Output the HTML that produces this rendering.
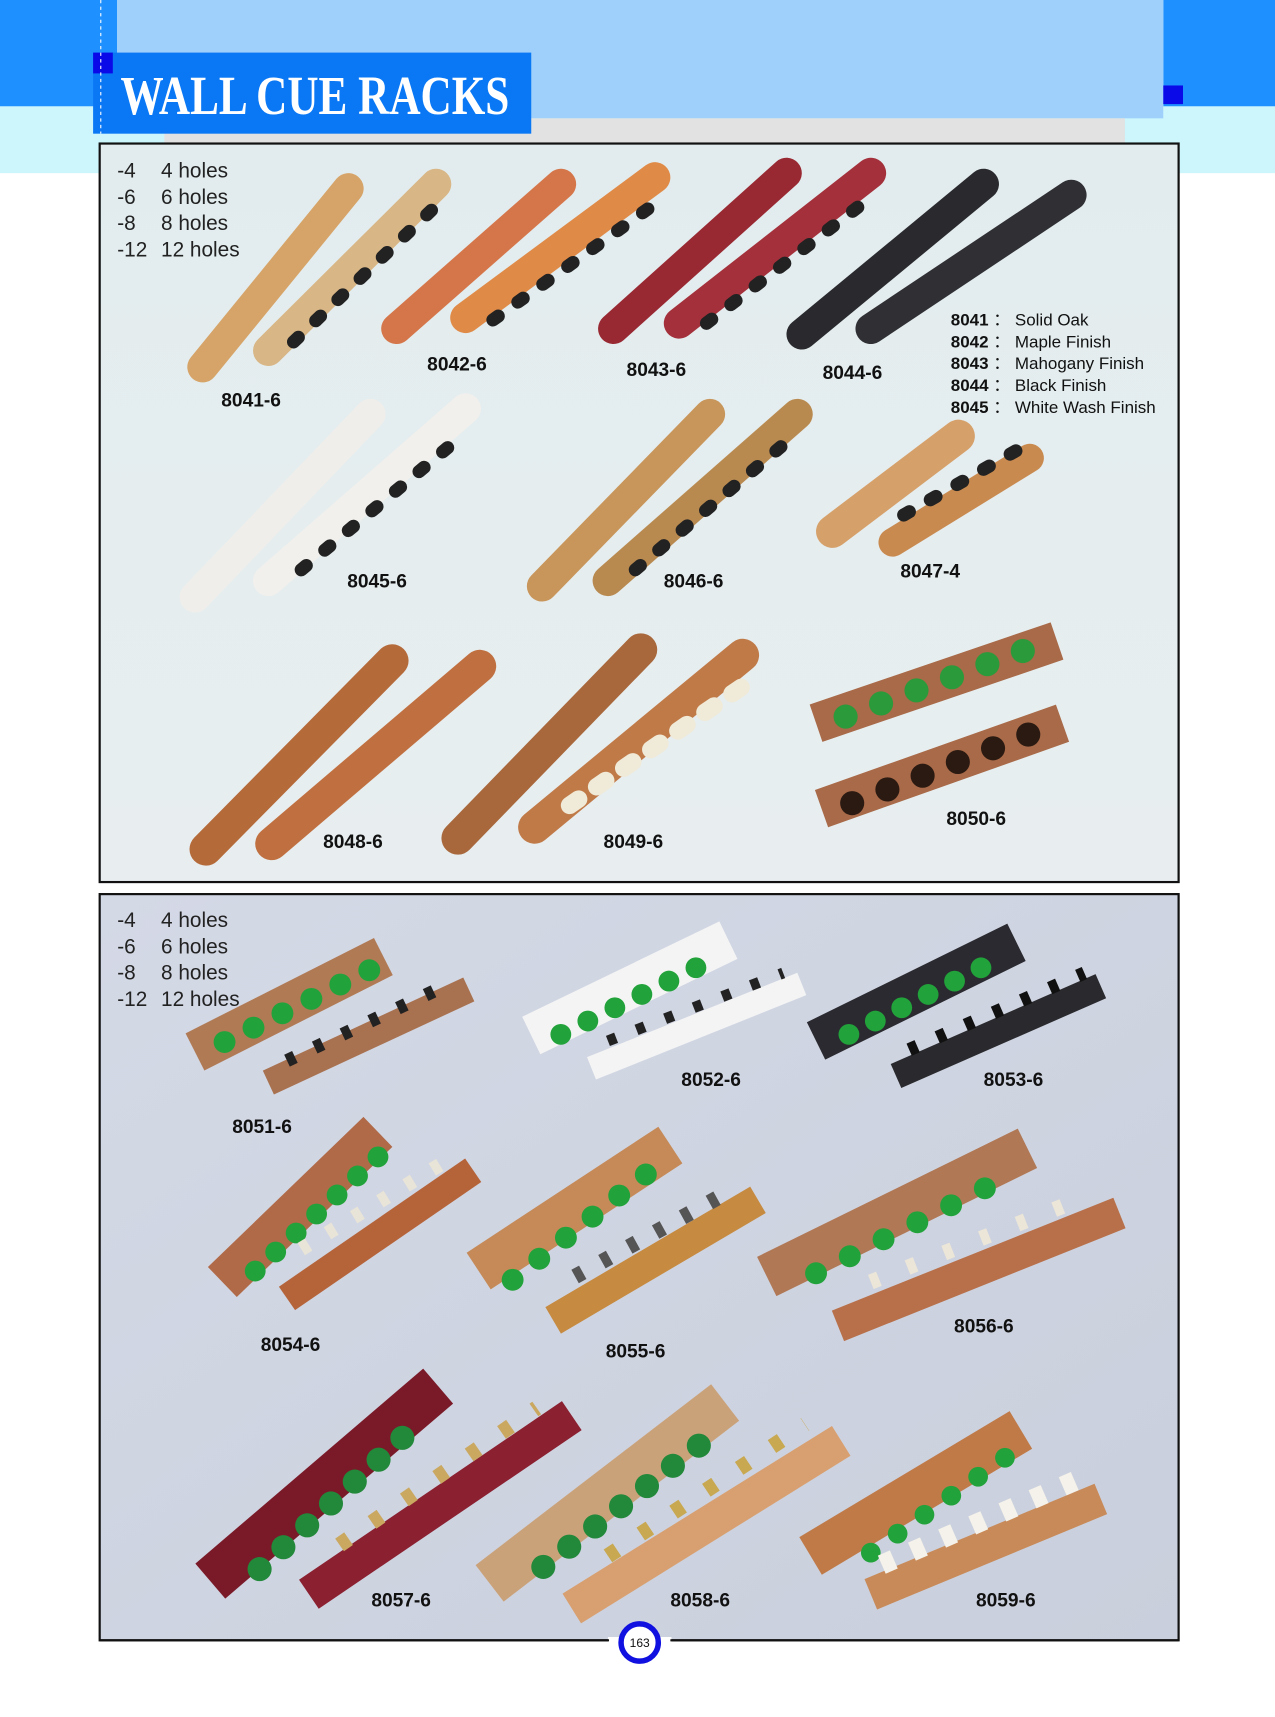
<!DOCTYPE html>
<html><head><meta charset="utf-8"><style>
html,body{margin:0;padding:0;background:#fff;}
svg{display:block;}
text{font-family:"Liberation Sans",sans-serif;}
.lb{font-weight:bold;font-size:17.5px;fill:#111;}
.lg{font-size:19px;fill:#222;}
.fn{font-size:15.5px;fill:#111;}
</style></head><body>
<svg width="1275" height="1717" viewBox="0 0 1164 1567" preserveAspectRatio="none" xmlns="http://www.w3.org/2000/svg">
<defs>
<linearGradient id="p1" x1="0" y1="0" x2="0" y2="1"><stop offset="0" stop-color="#e2ecee"/><stop offset="1" stop-color="#e8eef0"/></linearGradient>
<linearGradient id="p2" x1="0" y1="0" x2="1" y2="1"><stop offset="0" stop-color="#d4d9e6"/><stop offset="1" stop-color="#c9cfdc"/></linearGradient>
</defs>
<rect x="0" y="97" width="1164" height="61" fill="#ccf6fb"/>
<rect x="0" y="0" width="107" height="97" fill="#1e90ff"/>
<rect x="1062" y="0" width="102" height="97" fill="#1e90ff"/>
<rect x="107" y="0" width="955" height="108" fill="#9ed0fb"/>
<rect x="150" y="108" width="877" height="22" fill="#e2e2e2"/>
<rect x="85" y="48" width="400" height="74" fill="#0a78f5"/>
<rect x="85" y="48" width="18" height="19" fill="#0a0ae8"/>
<rect x="1062" y="78" width="18" height="17" fill="#0a0ae8"/>
<line x1="92" y1="0" x2="92" y2="122" stroke="#fff" stroke-width="1" stroke-dasharray="3 3"/>
<text x="110" y="104" style="font-family:'Liberation Serif',serif;font-size:50px;font-weight:bold;" fill="#fff" textLength="355" lengthAdjust="spacingAndGlyphs">WALL CUE RACKS</text>
<rect x="91" y="131" width="985" height="674" fill="url(#p1)" stroke="#111" stroke-width="2"/>
<rect x="91" y="816" width="985" height="681" fill="url(#p2)" stroke="#111" stroke-width="2"/>
<text x="107" y="162" class="lg">-4</text><text x="147" y="162" class="lg">4 holes</text>
<text x="107" y="186" class="lg">-6</text><text x="147" y="186" class="lg">6 holes</text>
<text x="107" y="210" class="lg">-8</text><text x="147" y="210" class="lg">8 holes</text>
<text x="107" y="234" class="lg">-12</text><text x="147" y="234" class="lg">12 holes</text>
<g stroke-linecap="round" fill="none">
<line x1="185" y1="335" x2="318" y2="172" stroke="#d6a468" stroke-width="28"/>
<line x1="245" y1="320" x2="398" y2="168" stroke="#d8b685" stroke-width="28"/>
<line x1="268" y1="312" x2="398" y2="188" stroke="#222" stroke-width="12" stroke-dasharray="6 22"/>
<line x1="362" y1="300" x2="512" y2="168" stroke="#d5764a" stroke-width="28"/>
<line x1="425" y1="290" x2="598" y2="162" stroke="#e08a48" stroke-width="28"/>
<line x1="450" y1="292" x2="598" y2="186" stroke="#222" stroke-width="12" stroke-dasharray="6 22"/>
<line x1="560" y1="300" x2="718" y2="158" stroke="#982832" stroke-width="28"/>
<line x1="620" y1="295" x2="795" y2="158" stroke="#a3303a" stroke-width="28"/>
<line x1="645" y1="295" x2="795" y2="180" stroke="#222" stroke-width="12" stroke-dasharray="6 22"/>
<line x1="732" y1="305" x2="898" y2="168" stroke="#2a2a2e" stroke-width="28"/>
<line x1="795" y1="300" x2="978" y2="178" stroke="#303034" stroke-width="28"/>
<line x1="178" y1="545" x2="338" y2="378" stroke="#f0eeea" stroke-width="28"/>
<line x1="245" y1="530" x2="425" y2="373" stroke="#f2f0ec" stroke-width="28"/>
<line x1="275" y1="520" x2="425" y2="395" stroke="#222" stroke-width="12" stroke-dasharray="6 22"/>
<line x1="495" y1="535" x2="648" y2="378" stroke="#c8955a" stroke-width="28"/>
<line x1="555" y1="530" x2="728" y2="378" stroke="#b98a50" stroke-width="28"/>
<line x1="580" y1="520" x2="728" y2="395" stroke="#222" stroke-width="12" stroke-dasharray="6 22"/>
<line x1="760" y1="485" x2="875" y2="398" stroke="#d6a06a" stroke-width="30"/>
<line x1="815" y1="495" x2="940" y2="418" stroke="#c98a50" stroke-width="26"/>
<line x1="825" y1="470" x2="930" y2="410" stroke="#222" stroke-width="12" stroke-dasharray="6 22"/>
<line x1="188" y1="775" x2="358" y2="603" stroke="#b56a3a" stroke-width="30"/>
<line x1="248" y1="770" x2="438" y2="608" stroke="#c07040" stroke-width="30"/>
<line x1="418" y1="765" x2="585" y2="593" stroke="#a8683c" stroke-width="30"/>
<line x1="488" y1="755" x2="678" y2="598" stroke="#c07a48" stroke-width="30"/>
<line x1="520" y1="735" x2="680" y2="625" stroke="#f0ead8" stroke-width="16" stroke-dasharray="10 20"/>
<line x1="745" y1="660" x2="965" y2="585" stroke="#a86a48" stroke-width="36" stroke-linecap="butt"/>
<line x1="772" y1="654" x2="945" y2="590" stroke="#2a9a3a" stroke-width="22" stroke-dasharray="0 34.5"/>
<line x1="750" y1="738" x2="970" y2="660" stroke="#a86a48" stroke-width="36" stroke-linecap="butt"/>
<line x1="778" y1="733" x2="950" y2="666" stroke="#2a1a12" stroke-width="22" stroke-dasharray="0 34.5"/>
</g>
<g class="lb">
<text x="202" y="371">8041-6</text><text x="390" y="338">8042-6</text>
<text x="572" y="343">8043-6</text><text x="751" y="346">8044-6</text>
<text x="317" y="536">8045-6</text><text x="606" y="536">8046-6</text>
<text x="822" y="527">8047-4</text><text x="295" y="774">8048-6</text>
<text x="551" y="774">8049-6</text><text x="864" y="753">8050-6</text>
</g>
<g class="fn">
<text x="868" y="297"><tspan font-weight="bold">8041</tspan> ： Solid Oak</text>
<text x="868" y="317"><tspan font-weight="bold">8042</tspan> ： Maple Finish</text>
<text x="868" y="337"><tspan font-weight="bold">8043</tspan> ： Mahogany Finish</text>
<text x="868" y="357"><tspan font-weight="bold">8044</tspan> ： Black Finish</text>
<text x="868" y="377"><tspan font-weight="bold">8045</tspan> ： White Wash Finish</text>
</g>
<text x="107" y="846" class="lg">-4</text><text x="147" y="846" class="lg">4 holes</text>
<text x="107" y="870" class="lg">-6</text><text x="147" y="870" class="lg">6 holes</text>
<text x="107" y="894" class="lg">-8</text><text x="147" y="894" class="lg">8 holes</text>
<text x="107" y="918" class="lg">-12</text><text x="147" y="918" class="lg">12 holes</text>
<g fill="none">
<line x1="178" y1="960" x2="350" y2="873" stroke="#b07a55" stroke-width="38"/>
<line x1="205" y1="951" x2="338" y2="885" stroke="#22a23a" stroke-width="20" stroke-linecap="round" stroke-dasharray="0 29.5"/>
<line x1="245" y1="988" x2="428" y2="903" stroke="#a87250" stroke-width="24"/>
<line x1="262" y1="968" x2="410" y2="898" stroke="#222" stroke-width="12" stroke-dasharray="8 20"/>
<line x1="485" y1="945" x2="665" y2="858" stroke="#f4f4f4" stroke-width="38"/>
<line x1="512" y1="944" x2="650" y2="876" stroke="#22a23a" stroke-width="19" stroke-linecap="round" stroke-dasharray="0 27.5"/>
<line x1="540" y1="975" x2="732" y2="898" stroke="#f4f4f4" stroke-width="22"/>
<line x1="555" y1="950" x2="715" y2="888" stroke="#222" stroke-width="10" stroke-dasharray="8 20"/>
<line x1="745" y1="950" x2="928" y2="860" stroke="#2a2a30" stroke-width="38"/>
<line x1="775" y1="944" x2="910" y2="876" stroke="#22a23a" stroke-width="19" stroke-linecap="round" stroke-dasharray="0 27"/>
<line x1="818" y1="982" x2="1005" y2="900" stroke="#2a2a2e" stroke-width="24"/>
<line x1="830" y1="958" x2="990" y2="888" stroke="#111" stroke-width="12" stroke-dasharray="8 20"/>
<line x1="203" y1="1170" x2="345" y2="1033" stroke="#b06a48" stroke-width="38"/>
<line x1="233" y1="1160" x2="346" y2="1055" stroke="#22a23a" stroke-width="19" stroke-linecap="round" stroke-dasharray="0 25.5"/>
<line x1="262" y1="1185" x2="432" y2="1068" stroke="#b5643a" stroke-width="26"/>
<line x1="275" y1="1140" x2="410" y2="1058" stroke="#e8e4d8" stroke-width="13" stroke-dasharray="8 20"/>
<line x1="437" y1="1160" x2="612" y2="1045" stroke="#c58a58" stroke-width="40"/>
<line x1="468" y1="1168" x2="592" y2="1070" stroke="#22a23a" stroke-width="20" stroke-linecap="round" stroke-dasharray="0 31"/>
<line x1="505" y1="1205" x2="692" y2="1095" stroke="#c68a40" stroke-width="28"/>
<line x1="525" y1="1165" x2="670" y2="1085" stroke="#555" stroke-width="14" stroke-dasharray="8 20"/>
<line x1="700" y1="1165" x2="938" y2="1048" stroke="#b07855" stroke-width="40"/>
<line x1="745" y1="1162" x2="918" y2="1075" stroke="#22a23a" stroke-width="20" stroke-linecap="round" stroke-dasharray="0 34.5"/>
<line x1="765" y1="1210" x2="1022" y2="1107" stroke="#b8704a" stroke-width="30"/>
<line x1="795" y1="1170" x2="985" y2="1095" stroke="#ece6d8" stroke-width="14" stroke-dasharray="8 28"/>
<line x1="192" y1="1443" x2="400" y2="1265" stroke="#7a1a28" stroke-width="42"/>
<line x1="237" y1="1432" x2="385" y2="1296" stroke="#22883a" stroke-width="22" stroke-linecap="round" stroke-dasharray="0 29.5"/>
<line x1="282" y1="1455" x2="522" y2="1292" stroke="#8a2030" stroke-width="32"/>
<line x1="310" y1="1410" x2="490" y2="1285" stroke="#caa860" stroke-width="14" stroke-dasharray="10 26"/>
<line x1="447" y1="1445" x2="662" y2="1280" stroke="#caa27a" stroke-width="42"/>
<line x1="496" y1="1430" x2="650" y2="1310" stroke="#22883a" stroke-width="22" stroke-linecap="round" stroke-dasharray="0 30"/>
<line x1="522" y1="1468" x2="768" y2="1315" stroke="#d8a070" stroke-width="32"/>
<line x1="555" y1="1420" x2="735" y2="1300" stroke="#c8a850" stroke-width="14" stroke-dasharray="10 26"/>
<line x1="740" y1="1420" x2="932" y2="1305" stroke="#c07a48" stroke-width="40"/>
<line x1="795" y1="1417" x2="918" y2="1330" stroke="#22a23a" stroke-width="18" stroke-linecap="round" stroke-dasharray="0 30"/>
<line x1="795" y1="1455" x2="1005" y2="1368" stroke="#c88a58" stroke-width="30"/>
<line x1="805" y1="1428" x2="985" y2="1350" stroke="#f4f2ea" stroke-width="18" stroke-dasharray="12 18"/>
</g>
<g class="lb">
<text x="212" y="1034">8051-6</text><text x="622" y="991">8052-6</text>
<text x="898" y="991">8053-6</text><text x="238" y="1233">8054-6</text>
<text x="553" y="1239">8055-6</text><text x="871" y="1216">8056-6</text>
<text x="339" y="1466">8057-6</text><text x="612" y="1466">8058-6</text>
<text x="891" y="1466">8059-6</text>
</g>
<rect x="555" y="1494" width="58" height="8" fill="#fff"/>
<line x1="91" y1="1497" x2="556" y2="1497" stroke="#111" stroke-width="2"/>
<line x1="612" y1="1497" x2="1076" y2="1497" stroke="#111" stroke-width="2"/>
<circle cx="584" cy="1499" r="17" fill="#fff" stroke="#1010e0" stroke-width="5"/>
<text x="584" y="1503" text-anchor="middle" font-size="11" fill="#111">163</text>
</svg>
</body></html>
